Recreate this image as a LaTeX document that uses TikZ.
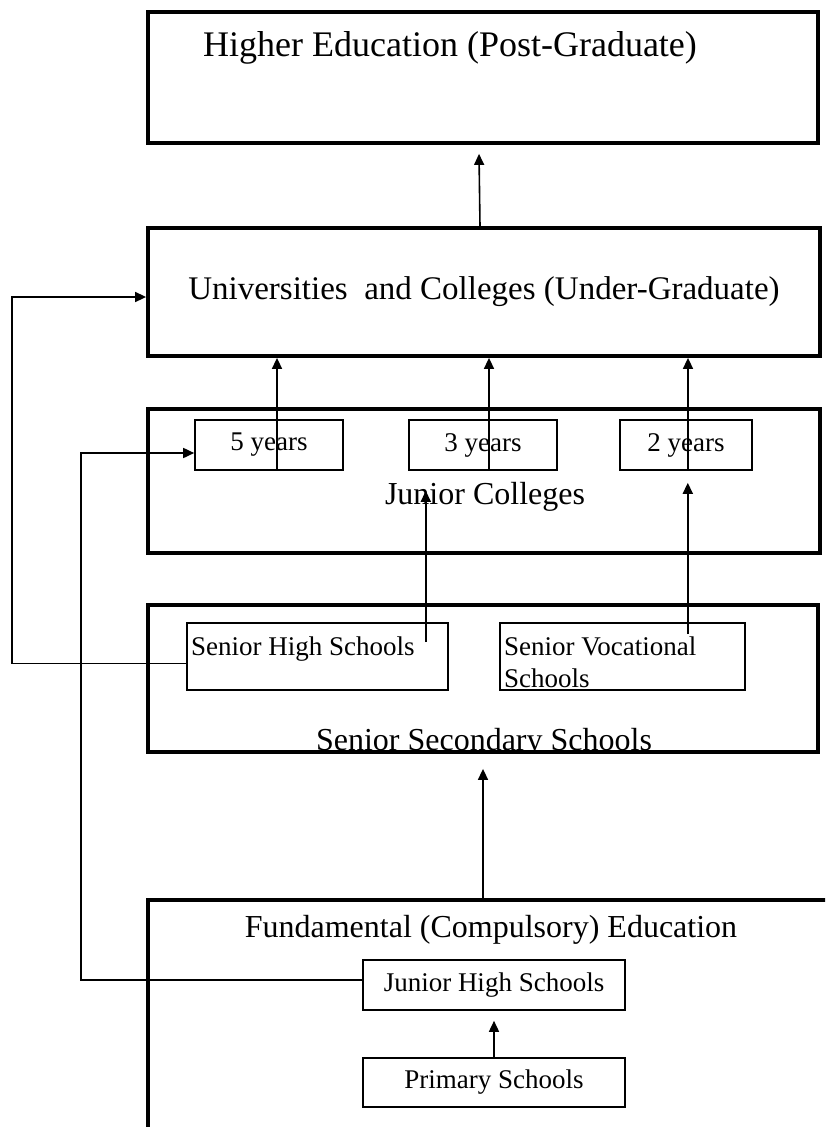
\documentclass[tikz,border=0pt]{standalone}
\usepackage{fontspec}
\setmainfont{Liberation Serif}
\usetikzlibrary{arrows.meta}

\begin{document}
\begin{tikzpicture}[x=1pt,y=-1pt,
      bigbox/.style={draw, line width=3.8pt, inner sep=0pt},
      smallbox/.style={draw, line width=1.6pt, inner sep=0pt},
      arr/.style={line width=1.6pt, -{Triangle[length=11pt,width=10pt]}},
      toptext/.style={font=\fontsize{36}{40}\selectfont},
      bigtext/.style={font=\fontsize{33}{38}\selectfont},
      midtext/.style={font=\fontsize{32}{36}\selectfont},
      smalltext/.style={font=\fontsize{27}{32}\selectfont}
      ]
      \clip (0,0) rectangle (825,1127);

      % levels
      \node[bigbox, minimum width=670pt, minimum height=131pt] (higher) at (483,77.5) {};
      \node[bigbox, bigtext, minimum width=672pt, minimum height=128pt] (univ) at (484,292) {Universities~ and Colleges (Under-Graduate)};
      \node[bigbox, minimum width=672pt, minimum height=144pt] (jc) at (484,481) {};
      \node[bigbox, minimum width=670pt, minimum height=147pt] (ss) at (483,678.5) {};
      \node[bigbox, minimum width=800pt, minimum height=300pt] (fund) at (548,1050) {};

      \node[smallbox, smalltext, minimum width=148pt, minimum height=50pt] (y5) at (269,445) {5 years};
      \node[smallbox, smalltext, minimum width=148pt, minimum height=50pt] (y3) at (483,445) {3 years};
      \node[smallbox, smalltext, minimum width=132pt, minimum height=50pt] (y2) at (686,445) {2 years};
      \node[smallbox, minimum width=261pt, minimum height=67pt] (shs) at (317.5,656.5) {};
      \node[smallbox, minimum width=245pt, minimum height=67pt] (svs) at (622.5,656.5) {};
      \node[smallbox, smalltext, minimum width=262pt, minimum height=50pt] (jhs) at (494,985) {Junior High Schools};
      \node[smallbox, smalltext, minimum width=262pt, minimum height=49pt] (prim) at (494,1082.5) {Primary Schools};

      \node[toptext, anchor=base] (highertxt) at (450,56) {Higher Education (Post-Graduate)};
      \node[midtext, anchor=base] (jctxt) at (485,504) {Junior Colleges};
      \node[smalltext, anchor=base west, inner sep=0pt] (shstxt) at (191,655) {Senior High Schools};
      \node[smalltext, anchor=north west, inner sep=0pt, align=left] (svstxt) at (504,636.5) {Senior Vocational\\Schools};
      \begin{scope}
        \clip (ss.north west) rectangle (ss.south east);
        \node[midtext, anchor=base] (sstxt) at (484,750) {Senior Secondary Schools};
      \end{scope}
      \node[midtext, anchor=base] (fundtxt) at (491,937) {Fundamental (Compulsory) Education};

      \coordinate (sidea) at (12,297);
      \coordinate (sideb) at (81,453);

      % arrows
      \draw[arr] ([xshift=-4pt]univ.north) -- ([xshift=-4pt,yshift=-9pt]higher.south);
      \draw[arr] ([xshift=8pt]y5.south) -- ([xshift=8pt]y5.south |- univ.south);
      \draw[arr] ([xshift=6pt]y3.south) -- ([xshift=6pt]y3.south |- univ.south);
      \draw[arr] ([xshift=2pt]y2.south) -- ([xshift=2pt]y2.south |- univ.south);
      \draw[arr] ([shift={(-23,20)}]shs.north east) -- ([shift={(-23,20)}]shs.north east |- y3.south);
      \draw[arr] ([shift={(-58,12)}]svs.north east) -- ([shift={(-58,12)}]svs.north east |- y2.south);
      \draw[arr] ([yshift=-7pt]shs.west) -| (sidea) -- ([yshift=-5pt]univ.west);
      \draw[arr] ([yshift=5pt]jhs.west) -| (sideb) -- ([yshift=-8pt]y5.west);
      \draw[arr] (ss.south |- fund.north) -- ([yshift=-15pt]ss.south);
      \draw[arr] (prim.north) -- ([yshift=-10pt]jhs.south);
\end{tikzpicture}
\end{document}
